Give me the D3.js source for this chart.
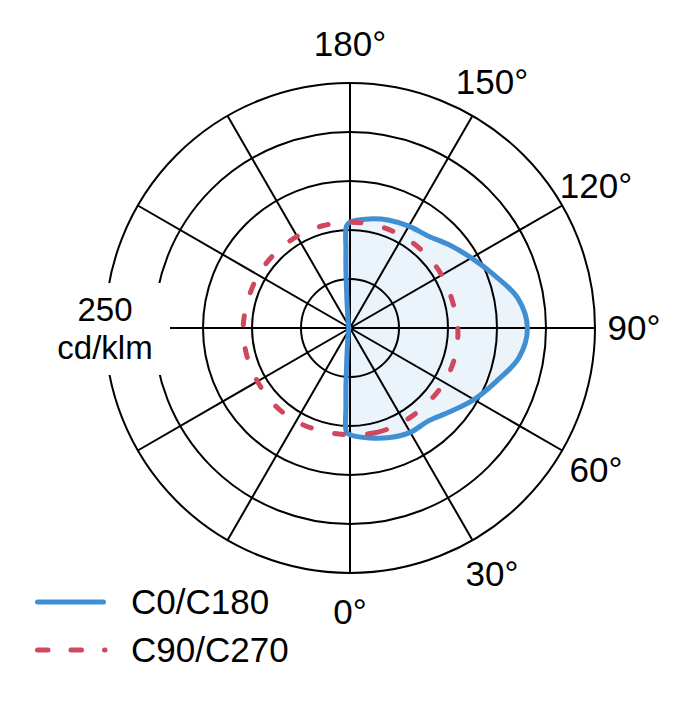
<!DOCTYPE html>
<html>
<head>
<meta charset="utf-8">
<script src="https://cdn.jsdelivr.net/npm/d3@7"></script>
<style>
  body { margin: 0; background: #fff; }
  text { font-family: "Liberation Sans", Arial, sans-serif; fill: #000; font-size: 35px; }
</style>
</head>
<body>
<svg width="680" height="720"></svg>
<script>
"use strict";

// rings and angle labels
const ringValues = [50, 100, 150, 200, 250];
const spokeAngles = [0, 30, 60, 90, 120, 150, 180, 210, 240, 270, 300, 330];
const labelAngles = [0, 30, 60, 90, 120, 150, 180];

// C0 (right half) and C180 (left half), cd/klm
const gammaC0 = [0, 10, 20, 30, 40, 50, 60, 70, 80, 90, 100, 110, 120, 130, 140, 150, 160, 170, 180];
const valuesC0 = [109, 114, 119, 123, 124, 133, 146, 159, 175, 181, 174, 157, 143, 132, 123, 120, 117, 113, 108];
const gammaC180 = [0, 2, 3, 4, 5, 6, 8, 12, 20, 45, 90, 135, 160, 168, 172, 174, 175, 176, 177, 178, 180];
const valuesC180 = [109, 106, 80, 60, 41, 31, 19, 10, 5, 2, 1, 2, 5, 10, 19, 31, 41, 60, 80, 104, 108];

// C90 (right half) and C270 (left half)
const gammaC90 = [0, 15, 30, 45, 60, 75, 90, 105, 120, 135, 150, 165, 180];
const valuesC90 = [109, 110, 110, 110, 111, 111, 110, 108, 108, 108, 108, 108, 108];
const valuesC270 = [109, 109, 110, 110, 109, 109, 109, 108, 108, 108, 108, 108, 108];

const cx = 350, cy = 328;
const r = d3.scaleLinear().domain([0, 250]).range([0, 245]);
const rad = Math.PI / 180;

const svg = d3.select("svg");
const g = svg.append("g").attr("transform", `translate(${cx},${cy})`);

// gamma -> lineRadial angle (0 = up, clockwise). right half: 0° down, 90° right
const rightAngle = gm => Math.PI - gm * rad;
const leftAngle = gm => Math.PI + gm * rad;

const radial = d3.lineRadial()
  .angle(d => d[0])
  .radius(d => r(d[1]))
  .curve(d3.curveCatmullRomClosed.alpha(0.5));

// closed loops: right half 0->180, then left half 180->0 (endpoints shared)
const blueLoop = gammaC0.map((gm, i) => [rightAngle(gm), valuesC0[i]])
  .concat(gammaC180.map((gm, i) => [leftAngle(gm), valuesC180[i]]).slice(1, -1).reverse());
const redLoop = gammaC90.map((gm, i) => [rightAngle(gm), valuesC90[i]])
  .concat(gammaC90.map((gm, i) => [leftAngle(gm), valuesC270[i]]).slice(1, -1).reverse());

// fill under the grid
g.append("path")
  .attr("d", radial(blueLoop))
  .style("fill", "#ebf3fb")
  .style("stroke", "none");

// grid rings
g.selectAll("circle.ring")
  .data(ringValues)
  .join("circle")
  .attr("class", "ring")
  .attr("r", d => r(d))
  .style("fill", "none")
  .style("stroke", "#000")
  .style("stroke-width", 2);

// spokes
g.selectAll("line.spoke")
  .data(spokeAngles)
  .join("line")
  .attr("class", "spoke")
  .attr("x1", 0)
  .attr("y1", 0)
  .attr("x2", d => r(250) * Math.sin(d * rad))
  .attr("y2", d => -r(250) * Math.cos(d * rad))
  .style("stroke", "#000")
  .style("stroke-width", 2);

// angle labels on the right half
g.selectAll("text.angle")
  .data(labelAngles)
  .join("text")
  .attr("class", "angle")
  .attr("x", d => 284 * Math.sin(rightAngle(d)))
  .attr("y", d => -284 * Math.cos(rightAngle(d)))
  .attr("dy", "0.35em")
  .attr("text-anchor", "middle")
  .text(d => d + "°");

// scale label with white patch over the left rings
g.append("rect")
  .attr("x", -r(250) - 65)
  .attr("y", -45)
  .attr("width", 130)
  .attr("height", 92)
  .style("fill", "#fff");

const unitLabel = g.append("text")
  .attr("text-anchor", "middle")
  .style("font-size", "33px");
unitLabel.append("tspan")
  .attr("x", -r(250))
  .attr("y", -7.5)
  .text(ringValues[ringValues.length - 1]);
unitLabel.append("tspan")
  .attr("x", -r(250))
  .attr("dy", 38)
  .text("cd/klm");

// curves
g.append("path")
  .attr("d", radial(blueLoop))
  .style("fill", "none")
  .style("stroke", "#3f8fd2")
  .style("stroke-width", 5)
  .style("stroke-linejoin", "round");

g.append("path")
  .attr("d", radial(redLoop))
  .style("fill", "none")
  .style("stroke", "#d0485e")
  .style("stroke-width", 5)
  .style("stroke-linecap", "round")
  .style("stroke-dasharray", "9,24");

// legend
svg.append("line")
  .attr("x1", 37.5).attr("y1", 602)
  .attr("x2", 103.5).attr("y2", 602)
  .style("stroke", "#3f8fd2")
  .style("stroke-width", 5)
  .style("stroke-linecap", "round");

svg.append("text")
  .attr("x", 131)
  .attr("y", 614)
  .text("C0/C180");

svg.append("line")
  .attr("x1", 37.5).attr("y1", 650)
  .attr("x2", 105).attr("y2", 650)
  .style("stroke", "#d0485e")
  .style("stroke-width", 5)
  .style("stroke-linecap", "round")
  .style("stroke-dasharray", "10.5,23");

svg.append("text")
  .attr("x", 131)
  .attr("y", 662)
  .text("C90/C270");
</script>
</body>
</html>
